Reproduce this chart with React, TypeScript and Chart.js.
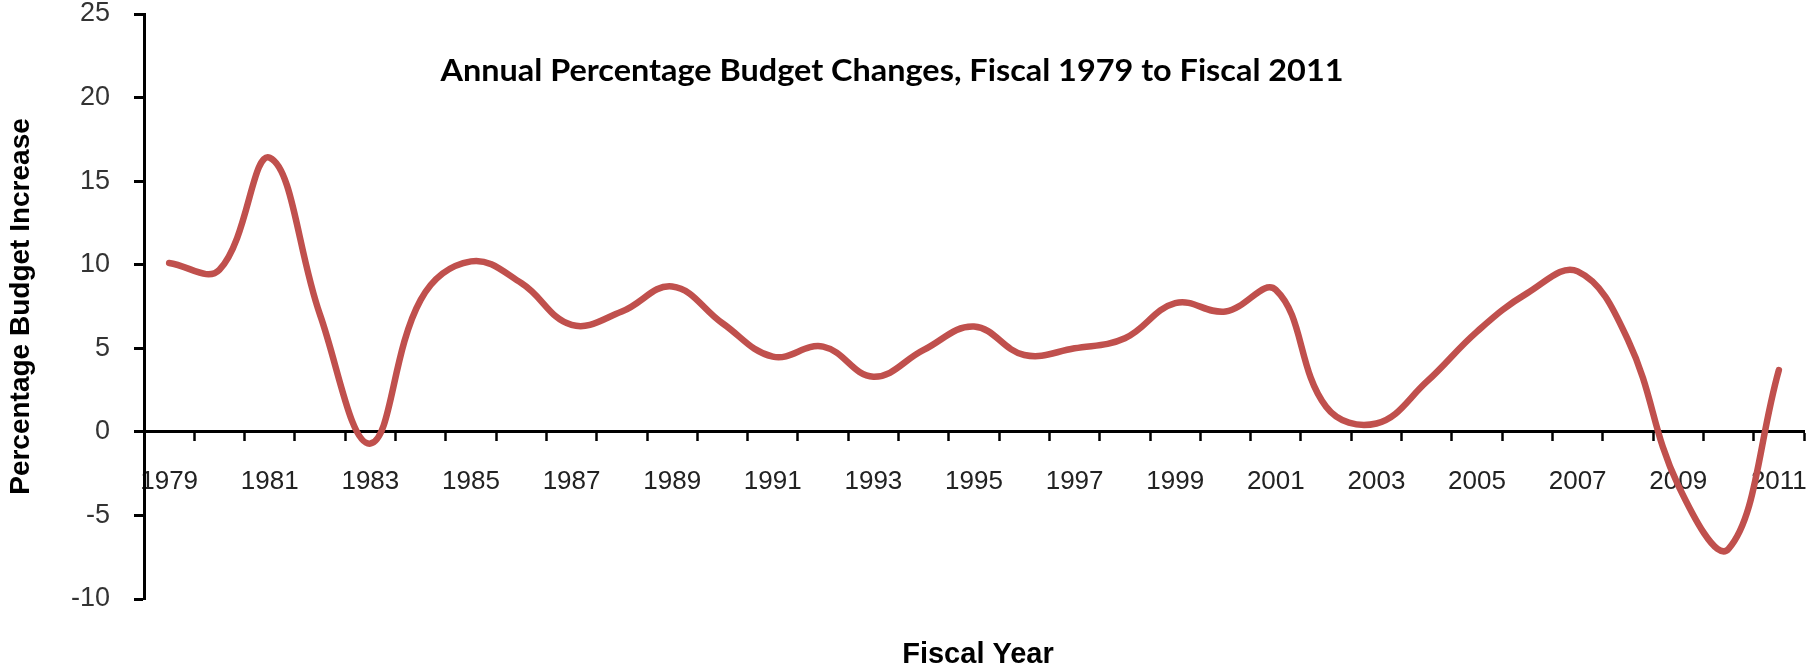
import React, { useEffect, useRef } from 'react';
import { Chart, registerables } from 'chart.js';

Chart.register(...registerables);

const years = [
  '1979', '1980', '1981', '1982', '1983', '1984', '1985', '1986', '1987', '1988', '1989',
  '1990', '1991', '1992', '1993', '1994', '1995', '1996', '1997', '1998', '1999', '2000',
  '2001', '2002', '2003', '2004', '2005', '2006', '2007', '2008', '2009', '2010', '2011',
];

const budgetChange = [
  10.1, 9.7, 16.4, 7.0, -0.7, 7.9, 10.2, 8.9, 6.4, 7.2, 8.7,
  6.5, 4.5, 5.1, 3.3, 4.9, 6.3, 4.6, 5.0, 5.6, 7.7, 7.2,
  8.5, 1.5, 0.5, 3.0, 6.0, 8.3, 9.6, 5.5, -3.2, -7.0, 3.7,
];

const yMin = -10;
const yMax = 25;
const yStep = 5;

const chartTitle = 'Annual Percentage Budget Changes, Fiscal 1979 to Fiscal 2011';
const xTitle = 'Fiscal Year';
const yTitle = 'Percentage Budget Increase';

const textPlugin = {
  id: 'extraText',
  afterDraw(chart: any) {
    const ctx = chart.ctx as CanvasRenderingContext2D;
    ctx.save();
    ctx.fillStyle = '#000';
    ctx.textAlign = 'center';
    ctx.textBaseline = 'middle';
    ctx.font = "bold 30px Lato, 'DejaVu Sans', sans-serif";
    const w = ctx.measureText(chartTitle).width;
    ctx.translate(892, 71);
    ctx.scale(903 / w, 1);
    ctx.fillText(chartTitle, 0, 0);
    ctx.restore();

    ctx.save();
    ctx.fillStyle = '#000';
    ctx.textAlign = 'center';
    ctx.textBaseline = 'middle';
    ctx.font = "bold 29px 'Liberation Sans', Arial, sans-serif";
    ctx.fillText(xTitle, 978, 655);
    ctx.restore();
  },
};

export default function App() {
  const canvasRef = useRef<HTMLCanvasElement | null>(null);

  useEffect(() => {
    if (!canvasRef.current) return;
    const chart = new Chart(canvasRef.current, {
      type: 'line',
      data: {
        labels: years,
        datasets: [
          {
            data: budgetChange,
            borderColor: '#C0504D',
            borderWidth: 6.5,
            borderCapStyle: 'round',
            borderJoinStyle: 'round',
            pointRadius: 0,
            tension: 0.4,
            fill: false,
          },
        ],
      },
      options: {
        animation: false,
        responsive: true,
        maintainAspectRatio: false,
        layout: { padding: { top: 14, right: 2, bottom: 71, left: 0 } },
        plugins: {
          legend: { display: false },
          tooltip: { enabled: false },
          title: { display: false },
        },
        scales: {
          x: {
            type: 'category',
            position: { y: 0 },
            offset: true,
            grid: {
              offset: true,
              drawOnChartArea: false,
              drawTicks: true,
              tickLength: 8,
              tickColor: '#000',
              tickWidth: 2.5,
            },
            border: { display: true, color: '#000', width: 3 },
            ticks: {
              autoSkip: false,
              maxRotation: 0,
              minRotation: 0,
              padding: 26,
              color: '#222',
              font: { family: "'Liberation Sans', Arial, sans-serif", size: 26 },
              callback: (_v: any, i: number) => (i % 2 === 0 ? years[i] : ''),
            },
            afterFit: (scale: any) => {
              scale.paddingLeft = 0;
              scale.paddingRight = 0;
            },
          },
          y: {
            min: yMin,
            max: yMax,
            grid: {
              drawOnChartArea: false,
              drawTicks: true,
              tickLength: 10,
              tickColor: '#000',
              tickWidth: 3,
            },
            border: { display: true, color: '#000', width: 3 },
            ticks: {
              stepSize: yStep,
              padding: 24,
              color: '#333',
              font: { family: "'Liberation Sans', Arial, sans-serif", size: 27 },
            },
            title: {
              display: true,
              text: yTitle,
              color: '#000',
              font: { family: "'Liberation Sans', Arial, sans-serif", size: 28, weight: 'bold' },
            },
            afterFit: (scale: any) => {
              scale.width = 144;
              scale.paddingTop = 0;
              scale.paddingBottom = 0;
            },
          },
        },
      } as any,
      plugins: [textPlugin],
    });
    return () => chart.destroy();
  }, []);

  return (
    <div style={{ position: 'fixed', left: 0, top: 0, width: '1806px', height: '670px', background: '#fff' }}>
      <canvas ref={canvasRef} />
    </div>
  );
}
